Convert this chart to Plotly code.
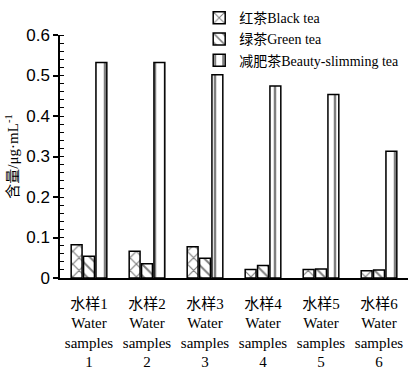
import plotly.graph_objects as go

categories = ["水样1<br>Water<br>samples<br>1", "水样2<br>Water<br>samples<br>2",
              "水样3<br>Water<br>samples<br>3", "水样4<br>Water<br>samples<br>4",
              "水样5<br>Water<br>samples<br>5", "水样6<br>Water<br>samples<br>6"]
black_tea = [0.082, 0.066, 0.077, 0.021, 0.021, 0.018]
green_tea = [0.054, 0.035, 0.049, 0.031, 0.022, 0.020]
slimming_tea = [0.532, 0.532, 0.502, 0.474, 0.453, 0.313]
series_names = ["红茶Black tea", "绿茶Green tea", "减肥茶Beauty-slimming tea"]
yticks = [0, 0.1, 0.2, 0.3, 0.4, 0.5, 0.6]
ytick_text = ["0", "0.1", "0.2", "0.3", "0.4", "0.5", "0.6"]

serif = "Times New Roman, Liberation Serif, Noto Sans CJK SC"
patterns = ["x", "\\", "|"]
sizes = [9, 8, 10]
fig = go.Figure()
for name, vals, pat, sz in zip(series_names, [black_tea, green_tea, slimming_tea], patterns, sizes):
    fig.add_trace(go.Bar(
        x=categories, y=vals, name=name,
        marker=dict(color="white", line=dict(color="black", width=1.5),
                    pattern=dict(shape=pat, fgcolor="black", bgcolor="white",
                                 size=sz, solidity=0.25)),
    ))

fig.update_layout(
    width=409, height=370,
    margin=dict(l=60, r=1, t=35, b=92, autoexpand=False),
    paper_bgcolor="white", plot_bgcolor="white",
    barmode="group", bargap=0.36, bargroupgap=0.12,
    showlegend=True,
    legend=dict(x=0.40, y=1.135, xanchor="left", yanchor="top",
                font=dict(family=serif, size=14, color="black"),
                bgcolor="rgba(0,0,0,0)", tracegroupgap=0, itemwidth=30),
    font=dict(family=serif, color="black"),
)
fig.update_xaxes(
    showline=True, linecolor="black", linewidth=1.5,
    ticks="outside", ticklen=11, tickcolor="rgba(0,0,0,0)",
    tickfont=dict(family=serif, size=15, color="black"),
    showgrid=False, automargin=False,
)
fig.update_yaxes(
    range=[0, 0.6], tickvals=yticks, ticktext=ytick_text,
    showline=True, linecolor="black", linewidth=1.5,
    ticks="outside", ticklen=5, tickwidth=1.5, tickcolor="black",
    minor=dict(dtick=0.02, ticks="inside", ticklen=4, tickcolor="black", tickwidth=1),
    tickfont=dict(family="Arial, Liberation Sans", size=17, color="black"),
    showgrid=False, zeroline=False, automargin=False,
    title=dict(text="含量/μg·mL<sup>-1</sup>", font=dict(family=serif, size=15, color="black"), standoff=4),
)
fig.write_html("out.html", config={"displayModeBar": False},
               post_script="document.body.style.margin='0';document.body.style.overflow='hidden';")
